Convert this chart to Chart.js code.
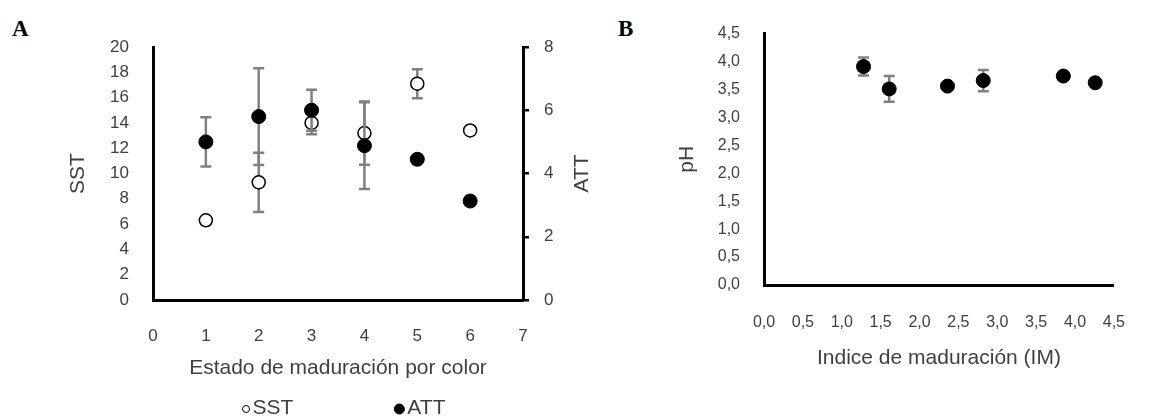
<!DOCTYPE html>
<html lang="es">
<head>
<meta charset="utf-8">
<title>SST, ATT y pH</title>
<script src="https://cdn.jsdelivr.net/npm/chart.js@4.4.1/dist/chart.umd.min.js"></script>
<style>
  body { margin: 0; background: #fff; width: 1153px; height: 418px; overflow: hidden; position: relative; }
  .letra { position: absolute; font-family: "Liberation Serif", "Times New Roman", serif; font-weight: bold; font-size: 23px; line-height: 1; color: #000; }
  #cajaA { position: absolute; left: 0; top: 0; width: 610px; height: 418px; }
  #cajaB { position: absolute; left: 610px; top: 0; width: 543px; height: 418px; }
</style>
</head>
<body>
<div class="letra" style="left:12px; top:17px;">A</div>
<div class="letra" style="left:618px; top:17px;">B</div>
<div id="cajaA"><canvas id="plotA"></canvas></div>
<div id="cajaB"><canvas id="plotB"></canvas></div>

<script>
// Grafico A: estado de maduracion por color
let estados = [1, 2, 3, 4, 5, 6];
let sst = [6.3, 9.3, 14.0, 13.2, 17.1, 13.4];
let sstError = [0, 2.35, 0.9, 2.5, 1.15, 0];
let att = [5.0, 5.8, 6.0, 4.88, 4.45, 3.13];
let attError = [0.78, 1.53, 0.65, 1.37, 0, 0];

let ticksEstado = ['0', '1', '2', '3', '4', '5', '6', '7'];
let ticksSST = ['0', '2', '4', '6', '8', '10', '12', '14', '16', '18', '20'];
let ticksATT = ['0', '2', '4', '6', '8'];

// Grafico B: indice de maduracion
let indice = [1.28, 1.61, 2.36, 2.82, 3.85, 4.26];
let ph = [3.91, 3.51, 3.56, 3.66, 3.74, 3.62];
let phError = [0.16, 0.23, 0, 0.19, 0, 0];

let ticksIndice = ['0,0', '0,5', '1,0', '1,5', '2,0', '2,5', '3,0', '3,5', '4,0', '4,5'];
let ticksPH = ['0,0', '0,5', '1,0', '1,5', '2,0', '2,5', '3,0', '3,5', '4,0', '4,5'];

let fuente = '"Liberation Sans", Arial, sans-serif';
let colorTexto = '#404040';

let puntos = (xs, ys) => xs.map((x, i) => ({x: x, y: ys[i]}));

// barras de error grises, dibujadas antes de cada serie
let barrasError = {
  id: 'barrasError',
  beforeDatasetDraw(chart, args) {
    let ds = chart.data.datasets[args.index];
    if (!ds.errores) return;
    let ctx = chart.ctx;
    let escalaX = chart.scales.x;
    let escalaY = chart.scales[ds.yAxisID || 'y'];
    ctx.save();
    ctx.strokeStyle = '#808080';
    ctx.lineWidth = 2.5;
    ds.data.forEach((p, i) => {
      let e = ds.errores[i];
      if (!e) return;
      let px = escalaX.getPixelForValue(p.x);
      let arriba = escalaY.getPixelForValue(p.y + e);
      let abajo = escalaY.getPixelForValue(p.y - e);
      ctx.beginPath();
      ctx.moveTo(px, arriba); ctx.lineTo(px, abajo);
      ctx.moveTo(px - 5.5, arriba); ctx.lineTo(px + 5.5, arriba);
      ctx.moveTo(px - 5.5, abajo); ctx.lineTo(px + 5.5, abajo);
      ctx.stroke();
    });
    ctx.restore();
  }
};

// titulo del eje derecho leido de abajo hacia arriba
let tituloDerecho = {
  id: 'tituloDerecho',
  afterDraw(chart) {
    let escala = chart.scales.y2;
    if (!escala) return;
    let ctx = chart.ctx;
    ctx.save();
    ctx.fillStyle = colorTexto;
    ctx.font = '21px ' + fuente;
    ctx.textAlign = 'center';
    ctx.textBaseline = 'middle';
    ctx.translate(escala.right - 16, (escala.top + escala.bottom) / 2);
    ctx.rotate(-Math.PI / 2);
    ctx.fillText('ATT', 0, 0);
    ctx.restore();
  }
};

// leyenda pegada al marcador, como la del original (separacion grande entre series)
let leyenda = {
  id: 'leyenda',
  afterDraw(chart) {
    let ctx = chart.ctx;
    let area = chart.chartArea;
    let y = area.bottom + 108;
    ctx.save();
    ctx.font = '21px ' + fuente;
    ctx.textBaseline = 'middle';
    ctx.textAlign = 'left';
    let radios = [3.5, 5];
    let items = chart.data.datasets.map((ds, i) => {
      let ancho = 2 * radios[i] + 3 + ctx.measureText(ds.label).width;
      return {ds: ds, r: radios[i], ancho: ancho};
    });
    let separacion = 101;
    let total = items.reduce((a, b) => a + b.ancho, 0) + separacion * (items.length - 1);
    let x = (area.left + area.right) / 2 + 6 - total / 2;
    items.forEach(it => {
      ctx.beginPath();
      ctx.arc(x + it.r, y + 1, it.r, 0, 2 * Math.PI);
      ctx.fillStyle = it.ds.backgroundColor;
      ctx.fill();
      ctx.lineWidth = 1;
      ctx.strokeStyle = it.ds.borderColor;
      ctx.stroke();
      ctx.fillStyle = colorTexto;
      ctx.fillText(it.ds.label, x + 2 * it.r + 3, y);
      x += it.ancho + separacion;
    });
    ctx.restore();
  }
};

let ejeNegro = {display: true, color: '#000', width: 3};
let sinGrilla = {display: false, drawTicks: false};
let titulo = (texto) => ({display: true, text: texto, color: colorTexto, font: {family: fuente, size: 21}});

let cargarGraficoA = () => {
  let plotRef = document.getElementById('plotA');
  let config = {
    type: 'scatter',
    data: {
      datasets: [
        {
          label: 'SST',
          data: puntos(estados, sst),
          errores: sstError,
          yAxisID: 'y',
          backgroundColor: '#fff',
          borderColor: '#000',
          borderWidth: 1.5,
          pointRadius: 6.5,
          order: 1
        },
        {
          label: 'ATT',
          data: puntos(estados, att),
          errores: attError,
          yAxisID: 'y2',
          backgroundColor: '#000',
          borderColor: '#000',
          borderWidth: 1,
          pointRadius: 7,
          order: 0
        }
      ]
    },
    options: {
      responsive: true,
      maintainAspectRatio: false,
      animation: false,
      events: [],
      layout: {padding: {left: 62, right: 12, top: 47, bottom: 33}},
      plugins: {
        tooltip: {enabled: false},
        legend: {display: false}
      },
      scales: {
        x: {
          type: 'linear',
          min: 0, max: 7,
          grid: sinGrilla,
          border: ejeNegro,
          ticks: {stepSize: 1, padding: 26, color: colorTexto, font: {family: fuente, size: 17},
                  maxRotation: 0, autoSkip: false, callback: (v, i) => ticksEstado[i]},
          title: titulo('Estado de maduración por color'),
          afterFit: (escala) => { escala.height = 85; }
        },
        y: {
          position: 'left',
          min: 0, max: 20,
          grid: sinGrilla,
          border: ejeNegro,
          ticks: {stepSize: 2, padding: 24, color: colorTexto, font: {family: fuente, size: 17},
                  autoSkip: false, callback: (v, i) => ticksSST[i]},
          title: titulo('SST'),
          afterFit: (escala) => { escala.width = 91; }
        },
        y2: {
          position: 'right',
          min: 0, max: 8,
          grid: {display: true, drawOnChartArea: false, drawTicks: true, tickLength: 6, color: '#000', lineWidth: 2.5},
          border: ejeNegro,
          ticks: {stepSize: 2, padding: 15, color: colorTexto, font: {family: fuente, size: 17},
                  autoSkip: false, callback: (v, i) => ticksATT[i]},
          afterFit: (escala) => { escala.width = 75; }
        }
      }
    },
    plugins: [barrasError, tituloDerecho, leyenda]
  };
  let chartA = new Chart(plotRef, config);
};

let cargarGraficoB = () => {
  let plotRef = document.getElementById('plotB');
  let config = {
    type: 'scatter',
    data: {
      datasets: [
        {
          label: 'pH',
          data: puntos(indice, ph),
          errores: phError,
          backgroundColor: '#000',
          borderColor: '#000',
          borderWidth: 1,
          pointRadius: 7
        }
      ]
    },
    options: {
      responsive: true,
      maintainAspectRatio: false,
      animation: false,
      events: [],
      layout: {padding: {left: 61, right: 16, top: 23, bottom: 43}},
      plugins: {
        tooltip: {enabled: false},
        legend: {display: false}
      },
      scales: {
        x: {
          type: 'linear',
          min: 0, max: 4.5,
          grid: sinGrilla,
          border: ejeNegro,
          ticks: {stepSize: 0.5, padding: 28, color: colorTexto, font: {family: fuente, size: 16},
                  maxRotation: 0, autoSkip: false, callback: (v, i) => ticksIndice[i]},
          title: titulo('Indice de maduración (IM)'),
          afterFit: (escala) => { escala.height = 90; }
        },
        y: {
          min: 0, max: 4.5,
          grid: sinGrilla,
          border: ejeNegro,
          ticks: {stepSize: 0.5, padding: 24, color: colorTexto, font: {family: fuente, size: 16},
                  autoSkip: false, callback: (v, i) => ticksPH[i]},
          title: titulo('pH'),
          afterFit: (escala) => { escala.width = 93; }
        }
      }
    },
    plugins: [barrasError]
  };
  let chartB = new Chart(plotRef, config);
};

cargarGraficoA();
cargarGraficoB();
</script>
</body>
</html>
